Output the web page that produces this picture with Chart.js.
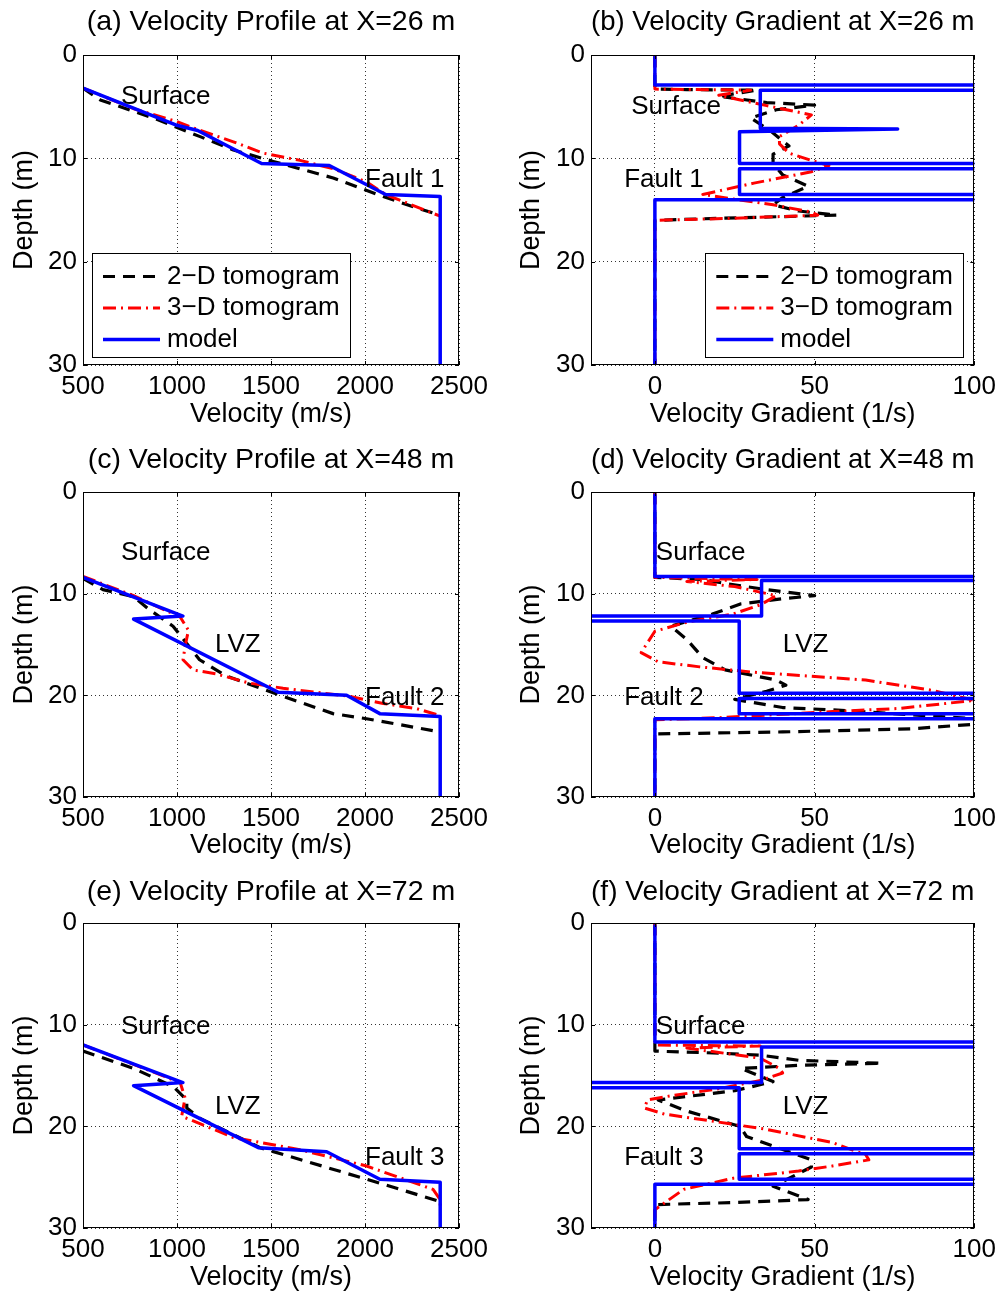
<!DOCTYPE html>
<html>
<head>
<meta charset="utf-8">
<script src="https://cdn.jsdelivr.net/npm/chart.js@4.4.0/dist/chart.umd.min.js"></script>
<style>
  body { margin: 0; background: #fff; width: 1002px; height: 1294px; position: relative; overflow: hidden; }
  canvas { position: absolute; }
</style>
</head>
<body>
<canvas id="pa"></canvas>
<canvas id="pb"></canvas>
<canvas id="pc"></canvas>
<canvas id="pd"></canvas>
<canvas id="pe"></canvas>
<canvas id="pf"></canvas>
<script>
// tick labels
const velTicks = [500, 1000, 1500, 2000, 2500];
const gradTicks = [0, 50, 100];
const depthTicks = [0, 10, 20, 30];

// series are [x, depth] pairs
// (a) X=26 m, velocity (m/s)
const a2d = [[500,3.2],[592,4.35],[875,6.1],[1123,7.9],[1300,9.2],[1512,10.3],[1831,11.9],[2097,13.7],[2274,14.8],[2400,15.5]];
const a3d = [[500,3.2],[770,5.2],[1000,6.45],[1123,7.3],[1300,8.4],[1459,9.5],[1654,10.2],[1831,11.0],[2010,12.3],[2110,13.5],[2400,15.6]];
const aModel = [[500,3.2],[1000,6.8],[1110,7.3],[1450,10.5],[1810,10.7],[2110,13.5],[2400,13.7],[2400,30]];

// (b) X=26 m, gradient (1/s)
const b2d = [[0,0],[0,3.3],[10,3.35],[32,3.4],[20,4.0],[35,4.6],[50,4.85],[38,5.3],[30,6.1],[36,7.3],[42,8.8],[37,9.6],[37,10.5],[40,11.6],[48,12.7],[40,13.8],[37,14.5],[45,15.1],[57,15.5],[20,15.8],[0,16.0],[0,30]];
const b3d = [[0,0],[0,3.3],[30,3.4],[20,3.9],[35,4.9],[49,5.8],[45,6.8],[39,7.9],[39,8.6],[42,9.5],[49,10.2],[54.5,10.7],[49,11.3],[31,12.4],[15,13.5],[37,14.5],[49,15.2],[51,15.5],[25,15.8],[0,16.0],[0,30]];
const bModel = [[0,0.2],[0,2.9],[300,2.9],[300,3.4],[33,3.4],[33,7.1],[76,7.15],[26.5,7.42],[26.5,10.5],[300,10.5],[300,11.0],[26.5,11.0],[26.5,13.5],[300,13.5],[300,14.0],[0,14.0],[0,30]];

// (c) X=48 m, velocity
const c2d = [[500,8.5],[606,9.6],[769,10.3],[855,11.6],[979,13.2],[1120,16.5],[1262,18.1],[1564,20.1],[1830,21.8],[2008,22.3],[2400,23.6]];
const c3d = [[500,8.3],[769,10.2],[1017,12.3],[1061,13.6],[1045,15.0],[1032,16.5],[1085,17.5],[1209,17.9],[1386,18.8],[1564,19.3],[1918,20.1],[2097,20.8],[2273,21.3],[2400,22.0]];
const cModel = [[500,8.4],[1031,12.2],[769,12.5],[1539,19.7],[1902,20.0],[2079,21.8],[2400,22.07],[2400,30]];

// (d) X=48 m, gradient
const d2d = [[0,0],[0,8.4],[15,8.6],[22,9.0],[35,9.6],[50,10.2],[40,10.5],[27,11.0],[18,12.0],[5,13.2],[10,14.5],[15,16.3],[22,17.5],[38,18.5],[41,19.0],[35,19.6],[25,20.4],[40,21.2],[60,21.5],[100,22.3],[102,22.8],[80,23.3],[40,23.6],[0,23.8],[0,30]];
const d3d = [[0,0],[0,8.4],[32,8.6],[10,8.8],[25,9.3],[38,10.2],[33,11.1],[24.5,12.0],[10,12.8],[0,13.7],[-4.3,15.8],[1,16.7],[14,17.2],[30,17.7],[66,18.5],[86.6,19.5],[100,20.5],[76,21.3],[55.6,21.6],[20,22.2],[0,22.4],[0,30]];
const dModel = [[0,0.3],[0,8.3],[300,8.3],[300,8.7],[33.4,8.7],[33.4,12.2],[-300,12.2],[-300,12.7],[26.4,12.7],[26.4,19.8],[300,19.8],[300,20.3],[26.4,20.3],[26.4,21.8],[300,21.8],[300,22.3],[0,22.3],[0,30]];

// (e) X=72 m, velocity
const e2d = [[500,12.6],[769,14.3],[981,16.1],[1052,17.4],[1052,18.2],[1120,19.2],[1442,22.1],[2008,25.2],[2400,27.4]];
const e3d = [[500,12.0],[769,13.9],[1017,15.7],[1043,17.2],[1025,19.0],[1300,21.1],[1654,22.3],[2008,23.9],[2362,26.2],[2400,27.2],[2400,28]];
const eModel = [[500,12.0],[1031,15.7],[769,16.0],[1433,22.1],[1796,22.5],[2079,25.2],[2400,25.5],[2400,30]];

// (f) X=72 m, gradient
const f2d = [[0,0],[0,12.6],[20,12.8],[33,13.0],[45,13.5],[71,13.8],[45,14.0],[27,14.3],[37,15.6],[25,16.5],[1,17.4],[10,18.5],[26.6,20.0],[28.7,21.0],[42,22.5],[49,23.3],[49,24.0],[37,25.9],[48,27.2],[25,27.5],[0,27.7],[0,30]];
const f3d = [[0,0],[0,12.0],[33,12.1],[10,12.3],[33,13.3],[39,14.3],[40,14.75],[33,15.5],[20,16.3],[5,17.0],[-2.3,17.4],[-3.3,18.2],[3,18.8],[14,19.3],[35,20.3],[55.6,21.6],[66,22.8],[67,23.3],[55.6,23.9],[45,24.4],[24.6,25.1],[9,26.2],[0,28.2],[0,30]];
const fModel = [[0,0.3],[0,11.7],[300,11.7],[300,12.2],[33.4,12.2],[33.4,15.7],[-300,15.7],[-300,16.2],[26.4,16.2],[26.4,22.2],[300,22.2],[300,22.7],[26.4,22.7],[26.4,25.2],[300,25.2],[300,25.7],[0,25.7],[0,30]];

// text labels inside the axes, in data units
const notesA = [["Surface",702,4.07],["Fault 1",2000,12.1]];
const notesB = [["Surface",-7.4,5.0],["Fault 1",-9.6,12.1]];
const notesC = [["Surface",702,6.0],["LVZ",1202,15.0],["Fault 2",2000,20.2]];
const notesD = [["Surface",0.3,6.0],["LVZ",40,15.0],["Fault 2",-9.6,20.2]];
const notesE = [["Surface",702,10.2],["LVZ",1202,18.1],["Fault 3",2000,23.1]];
const notesF = [["Surface",0.3,10.2],["LVZ",40,18.1],["Fault 3",-9.6,23.1]];

const FONT = '"Liberation Sans", Arial, Helvetica, sans-serif';

const cols = [
  { left: 0, width: 500, yAxisW: 83, padRight: 41, yTitlePad: 8.8 },
  { left: 500, width: 502, yAxisW: 91, padRight: 25, yTitlePad: 15.8 }
];
const rows = [
  { top: 0, height: 431, titleY: 22, areaTop: 55, areaBottom: 365 },
  { top: 431, height: 431, titleY: 460, areaTop: 492, areaBottom: 797 },
  { top: 862, height: 432, titleY: 892, areaTop: 923, areaBottom: 1228 }
];

const paper = {
  id: 'paper',
  afterDatasetsDraw(chart, args, opts) {
    const { ctx, chartArea: a, scales: { x, y } } = chart;
    ctx.save();
    ctx.setLineDash([]);
    ctx.strokeStyle = '#000';
    ctx.lineWidth = 1;
    // inner tick marks
    ctx.beginPath();
    x.ticks.forEach(t => {
      const px = Math.round(x.getPixelForValue(t.value)) + 0.5;
      ctx.moveTo(px, a.bottom); ctx.lineTo(px, a.bottom - 4);
      ctx.moveTo(px, a.top); ctx.lineTo(px, a.top + 4);
    });
    y.ticks.forEach(t => {
      const py = Math.round(y.getPixelForValue(t.value)) + 0.5;
      ctx.moveTo(a.left, py); ctx.lineTo(a.left + 4, py);
      ctx.moveTo(a.right, py); ctx.lineTo(a.right - 4, py);
    });
    ctx.stroke();
    ctx.strokeRect(Math.round(a.left) + 0.5, Math.round(a.top) + 0.5, Math.round(a.width) - 1, Math.round(a.height) - 1);

    ctx.font = '26px ' + FONT;
    ctx.fillStyle = '#000';
    ctx.textBaseline = 'middle';
    ctx.textAlign = 'left';
    opts.notes.forEach(n => ctx.fillText(n[0], x.getPixelForValue(n[1]), y.getPixelForValue(n[2])));

    if (opts.legend) {
      const w = 258, h = 104;
      const bx = opts.legend === 'left' ? a.left + 9 : a.right - 11 - w;
      const by = a.bottom - 8 - h;
      ctx.fillStyle = '#fff';
      ctx.fillRect(bx, by, w, h);
      ctx.strokeStyle = '#000';
      ctx.lineWidth = 1;
      ctx.strokeRect(Math.round(bx) + 0.5, Math.round(by) + 0.5, w, h);
      chart.data.datasets.forEach((ds, i) => {
        const ly = by + 23.5 + i * 31.5;
        ctx.save();
        ctx.strokeStyle = ds.borderColor;
        ctx.lineWidth = ds.borderWidth;
        ctx.setLineDash(ds.borderDash || []);
        ctx.beginPath();
        ctx.moveTo(bx + 11, ly); ctx.lineTo(bx + 68, ly);
        ctx.stroke();
        ctx.restore();
        ctx.fillStyle = '#000';
        ctx.fillText(ds.label, bx + 75, ly);
      });
    }
    ctx.restore();
  }
};

const panels = [
  { id: 'pa', c: 0, r: 0, title: '(a) Velocity Profile at X=26 m', s: [a2d, a3d, aModel], notes: notesA, legend: 'left' },
  { id: 'pb', c: 1, r: 0, title: '(b) Velocity Gradient at X=26 m', s: [b2d, b3d, bModel], notes: notesB, legend: 'right' },
  { id: 'pc', c: 0, r: 1, title: '(c) Velocity Profile at X=48 m', s: [c2d, c3d, cModel], notes: notesC },
  { id: 'pd', c: 1, r: 1, title: '(d) Velocity Gradient at X=48 m', s: [d2d, d3d, dModel], notes: notesD },
  { id: 'pe', c: 0, r: 2, title: '(e) Velocity Profile at X=72 m', s: [e2d, e3d, eModel], notes: notesE },
  { id: 'pf', c: 1, r: 2, title: '(f) Velocity Gradient at X=72 m', s: [f2d, f3d, fModel], notes: notesF }
];

const toXY = arr => arr.map(p => ({ x: p[0], y: p[1] }));

panels.forEach(p => {
  const col = cols[p.c], row = rows[p.r];
  const canvas = document.getElementById(p.id);
  canvas.width = col.width; canvas.height = row.height;
  canvas.style.left = col.left + 'px'; canvas.style.top = row.top + 'px';

  const isVel = p.c === 0;
  const titleSize = 28.5, titleLH = titleSize * 1.2;
  const padTop = row.titleY - row.top - titleLH / 2;
  const padBottom = row.areaTop - row.top - titleLH - padTop;
  const xTicks = isVel ? velTicks : gradTicks;

  new Chart(canvas, {
    type: 'scatter',
    data: {
      datasets: [
        { label: '2\u2212D tomogram', data: toXY(p.s[0]), borderColor: '#000', borderWidth: 3.2, borderDash: [12, 8], order: 2 },
        { label: '3\u2212D tomogram', data: toXY(p.s[1]), borderColor: '#f00', borderWidth: 3, borderDash: [13, 5, 2, 5], order: 1 },
        { label: 'model', data: toXY(p.s[2]), borderColor: '#00f', borderWidth: 3.5, order: 0 }
      ].map(d => Object.assign(d, { showLine: true, pointRadius: 0, tension: 0, clip: 0, borderJoinStyle: 'round' }))
    },
    options: {
      responsive: false,
      animation: false,
      devicePixelRatio: 1,
      layout: { padding: { left: 0, right: col.padRight, top: 0, bottom: 0 } },
      plugins: {
        legend: { display: false },
        tooltip: { enabled: false },
        title: {
          display: true, text: p.title, fullSize: false, color: '#000',
          font: { family: FONT, size: titleSize, weight: 'normal' },
          padding: { top: padTop, bottom: padBottom }
        },
        paper: { notes: p.notes, legend: p.legend }
      },
      scales: {
        x: {
          type: 'linear',
          min: isVel ? 500 : -20, max: isVel ? 2500 : 100,
          afterBuildTicks: s => { s.ticks = xTicks.map(v => ({ value: v })); },
          afterFit: s => { s.height = row.top + row.height - row.areaBottom; },
          ticks: { color: '#000', font: { family: FONT, size: 26 }, padding: 6, maxRotation: 0, callback: v => String(v) },
          grid: { drawTicks: false, color: '#333', lineWidth: 1 },
          border: { display: false, dash: [1, 3] },
          title: { display: true, text: isVel ? 'Velocity (m/s)' : 'Velocity Gradient (1/s)', color: '#000', font: { family: FONT, size: 27 }, padding: 0 }
        },
        y: {
          type: 'linear', reverse: true, min: 0, max: 30,
          afterBuildTicks: s => { s.ticks = depthTicks.map(v => ({ value: v })); },
          afterFit: s => { s.width = col.yAxisW; },
          ticks: { color: '#000', font: { family: FONT, size: 26 }, padding: 6, callback: v => String(v) },
          grid: { drawTicks: false, color: '#333', lineWidth: 1 },
          border: { display: false, dash: [1, 3] },
          title: { display: true, text: 'Depth (m)', color: '#000', font: { family: FONT, size: 27 }, padding: { top: col.yTitlePad, bottom: 0 } }
        }
      }
    },
    plugins: [paper]
  });
});
</script>
</body>
</html>
